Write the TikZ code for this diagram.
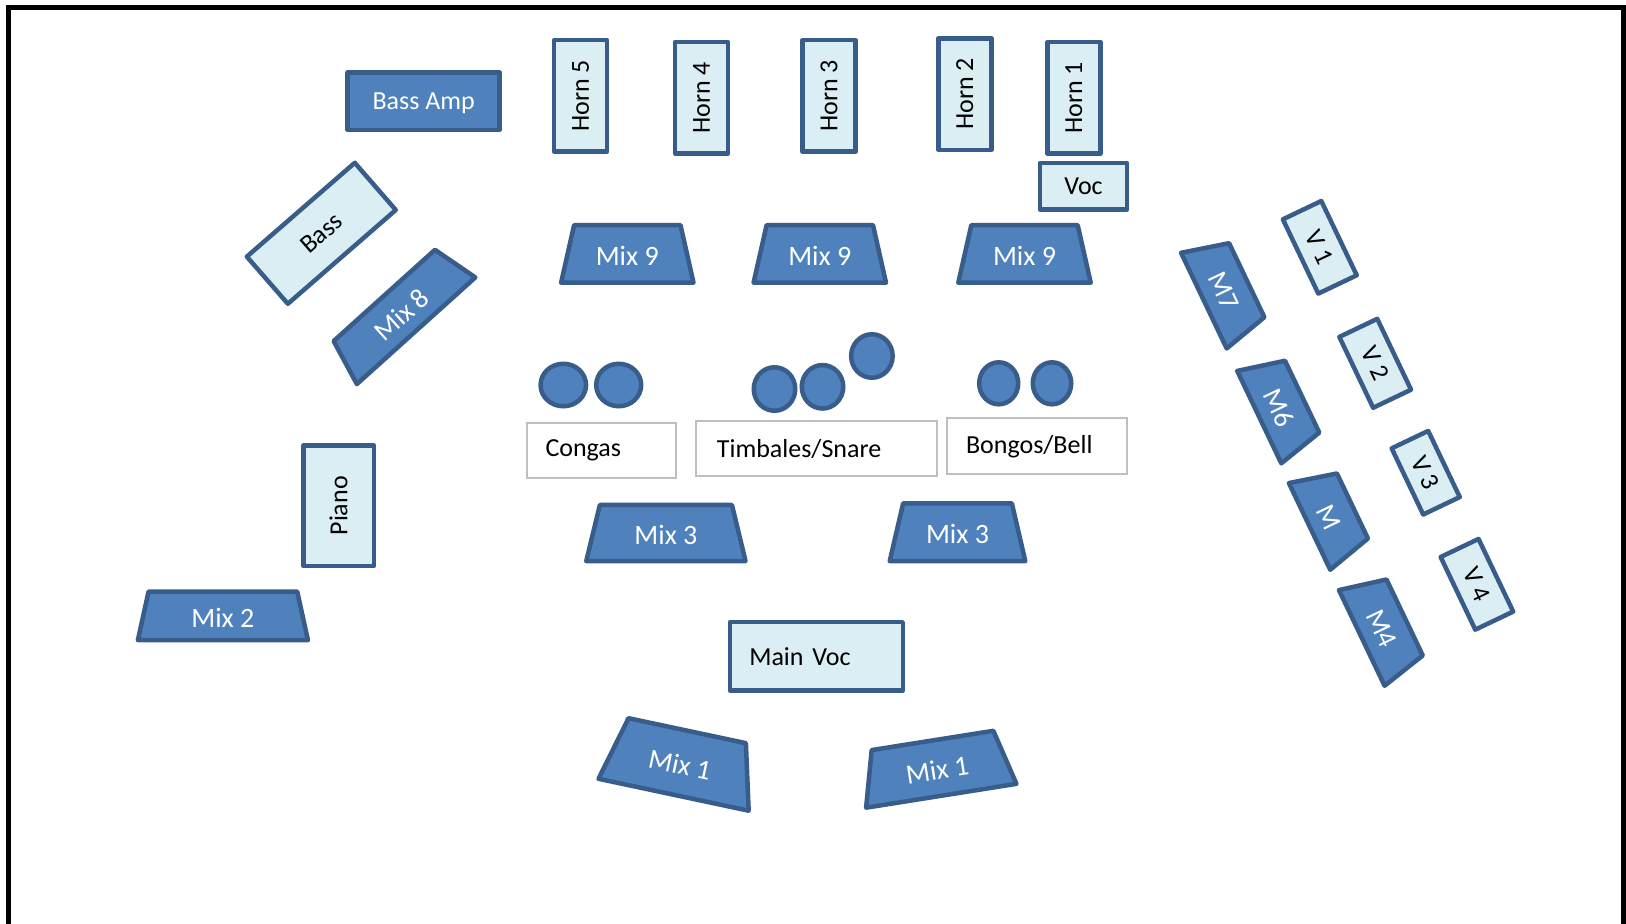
\documentclass[tikz,border=0pt]{standalone}
\usepackage{fontspec}
\setmainfont{Carlito}
\usetikzlibrary{shapes.geometric}
\definecolor{darkfill}{HTML}{4F81BD}
\definecolor{edgeblue}{HTML}{385D8A}
\definecolor{lightfill}{HTML}{DBEEF4}
\definecolor{percgray}{HTML}{BFBFBF}
\tikzset{
  stageframe/.style={draw=black, line width=5pt},
  lightbox/.style={draw=edgeblue, fill=lightfill, line width=4.5pt, line join=round, text=black, font=\fontsize{26}{30}\selectfont, inner sep=0pt},
  darkbox/.style={draw=edgeblue, fill=darkfill, line width=4.5pt, line join=round, text=white, font=\fontsize{26}{30}\selectfont, inner sep=0pt},
  mixpath/.style={draw=edgeblue, fill=darkfill, line width=4.5pt, line join=round},
  mixtext/.style={text=white, font=\fontsize{28}{32}\selectfont, inner sep=0pt, transform shape},
  percbox/.style={draw=percgray, fill=white, line width=2pt, text=black, font=\fontsize{26}{30}\selectfont, align=left, inner ysep=0pt},
  drum/.style={ellipse, draw=edgeblue, fill=darkfill, line width=4.5pt, inner sep=0pt, minimum width=41.5pt, minimum height=43.5pt}
}
\newcommand{\mixtrap}[8]{%
  \begin{scope}[shift={(#2,#3)},rotate=#4]
    \draw[mixpath] ({-(#5)/2},{-(#7)/2}) -- ({(#5)/2},{-(#7)/2}) -- ({(#6)/2},{(#7)/2}) -- ({-(#6)/2},{(#7)/2}) -- cycle;
    \node[mixtext] (#1) at (0,2) {#8};
  \end{scope}}
\begin{document}
\begin{tikzpicture}[x=1pt,y=-1pt]
\useasboundingbox (0,0) rectangle (1626,924);
\draw[stageframe] (8.5,960) -- (8.5,7.5) -- (1623,7.5) -- (1623,960);

% amps and horns
\node[darkbox, minimum width=152pt, minimum height=57.2pt, text depth=0pt] (bassamp) at (423.7,101.2) {Bass Amp};
\node[lightbox, rotate=90, minimum width=111.5pt, minimum height=53pt] (hornfive) at (580.6,95.9) {Horn 5};
\node[lightbox, rotate=90, minimum width=111.5pt, minimum height=53pt] (hornfour) at (701.5,97.7) {Horn 4};
\node[lightbox, rotate=90, minimum width=111.5pt, minimum height=53pt] (hornthree) at (828.9,95.9) {Horn 3};
\node[lightbox, rotate=90, minimum width=111.5pt, minimum height=53pt] (horntwo) at (964.8,94) {Horn 2};
\node[lightbox, rotate=90, minimum width=111.5pt, minimum height=53pt] (hornone) at (1073.9,97.7) {Horn 1};
\node[lightbox, minimum width=87.4pt, minimum height=46.2pt] (voc) at (1083.5,186.3) {Voc};

\node[lightbox, rotate=41, minimum width=143pt, minimum height=62.5pt] (bass) at (321.3,233.3) {Bass};
\node[lightbox, rotate=90, minimum width=120.5pt, minimum height=70.5pt] (piano) at (338.5,505.8) {Piano};
\node[lightbox, minimum height=68.2pt, text width=134.2pt, inner xsep=19.3pt, align=left] (mainvoc) at (816.4,656.3) {Main Voc};

% monitors
\mixtrap{mixninea}{627.3}{253.9}{0}{106.4}{132.4}{57.5}{Mix 9}
\mixtrap{mixnineb}{819.8}{253.9}{0}{106.4}{132.4}{57.5}{Mix 9}
\mixtrap{mixninec}{1024.5}{253.9}{0}{106.4}{132.4}{57.5}{Mix 9}
\mixtrap{mixthreea}{665.9}{533}{0}{132.1}{159.3}{56.1}{Mix 3}
\mixtrap{mixthreeb}{957.5}{532.2}{0}{108.7}{135.6}{57.8}{Mix 3}
\mixtrap{mixtwo}{222.9}{615.8}{0}{148.7}{170}{48.5}{Mix 2}
\mixtrap{mixeight}{400.2}{313.1}{42}{136.4}{159.4}{47.5}{Mix 8}
\mixtrap{mixonea}{680.4}{762.7}{-12}{120}{153.5}{65.5}{Mix 1}
\mixtrap{mixoneb}{936.9}{768.1}{9}{123.2}{152.2}{56}{Mix 1}
\mixtrap{mseven}{1225.3}{290.4}{-64.5}{82}{106}{47.5}{M7}
\mixtrap{msix}{1280.7}{406.9}{-64.5}{79.6}{102.4}{47.5}{M6}
\mixtrap{mfive}{1331}{516.2}{-64.5}{72}{96}{47.5}{M}
\mixtrap{mfour}{1383.2}{627.7}{-64.5}{84.2}{106}{47.5}{M4}

% vocal mics right
\node[lightbox, rotate=-64.5, minimum width=82.3pt, minimum height=42.6pt] (vone) at (1319.8,247.3) {V 1};
\node[lightbox, rotate=-64.5, minimum width=78.5pt, minimum height=42pt] (vtwo) at (1375.2,363.3) {V 2};
\node[lightbox, rotate=-64.5, minimum width=73.3pt, minimum height=40.5pt] (vthree) at (1425.7,472.7) {V 3};
\node[lightbox, rotate=-64.5, minimum width=80.5pt, minimum height=42pt] (vfour) at (1476.9,584.3) {V 4};

% percussion
\node[drum, minimum width=45.5pt, minimum height=42.5pt] (congaa) at (563.3,385) {};
\node[drum, minimum width=45pt, minimum height=42.5pt] (congab) at (618.7,385) {};
\node[drum] (timba) at (774.5,389) {};
\node[drum] (timbb) at (822.5,386.8) {};
\node[drum] (timbc) at (871.9,356) {};
\node[drum, minimum width=39pt, minimum height=42pt] (bongoa) at (998.7,383.3) {};
\node[drum, minimum width=38.5pt, minimum height=42pt] (bongob) at (1052,383.3) {};
\node[percbox, minimum height=55.6pt, text width=111pt, inner xsep=19pt] (congas) at (601,450.5) {Congas};
\node[percbox, minimum height=55.3pt, text width=199pt, inner xsep=20.7pt] (timbales) at (816.4,448.65) {Timbales/Snare};
\node[percbox, minimum height=56pt, text width=142pt, inner xsep=19.1pt] (bongos) at (1037,446.3) {Bongos/Bell};
\end{tikzpicture}
\end{document}
